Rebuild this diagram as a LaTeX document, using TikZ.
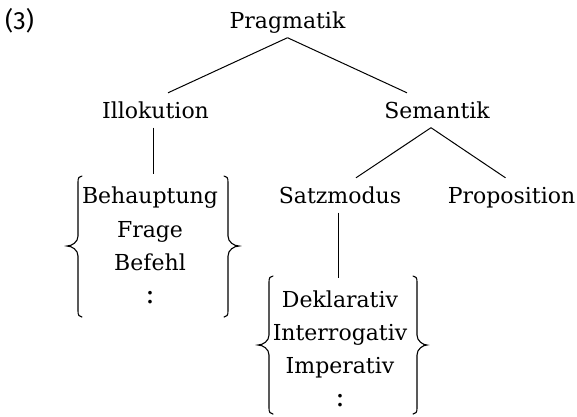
\documentclass[tikz,border=0pt]{standalone}
\usepackage{fontspec}
\setmainfont{DejaVu Serif}
\newfontfamily\numfont{Fira Sans}
\usetikzlibrary{calc}
\begin{document}
\begin{tikzpicture}[x=1bp,y=-1bp,
  txt/.style={font=\fontsize{22bp}{33bp}\selectfont, anchor=base, inner xsep=0pt},
  tn/.style={txt, text height=20.5bp, text depth=5bp, inner ysep=4.5bp},
  li/.style={txt, text height=16bp, text depth=5bp, inner ysep=13bp},
  edge/.style={line width=1bp},
  bracestyle/.style={line width=1.1bp, line cap=round}]
\useasboundingbox (0,0) rectangle (577,416);
\node[anchor=base west, inner sep=0pt, font=\numfont\fontsize{25bp}{28bp}\selectfont] (num) at (5,29) {(3)};
% tree nodes
\node[tn] (prag) at (287.5,28) {Pragmatik};
\node[tn] (illo) at (155.5,118) {Illokution};
\node[tn] (sem) at (437,118) {Semantik};
\node[tn] (satz) at (340,203) {Satzmodus};
\node[tn] (prop) at (511.5,203) {Proposition};
% list 1
\node[li] (b1) at (150,203) {Behauptung};
\node[li] (b2) at (150,237) {Frage};
\node[li] (b3) at (150,270) {Befehl};
\node[li, font=\fontsize{28bp}{33bp}\selectfont] (b4) at (150,303) {:};
% list 2
\node[li] (d1) at (340,307) {Deklarativ};
\node[li] (d2) at (340,340) {Interrogativ};
\node[li] (d3) at (340,373) {Imperativ};
\node[li, font=\fontsize{28bp}{33bp}\selectfont] (d4) at (340,406) {:};
% connectors
\draw[edge] (prag.south) -- ([xshift=12.5bp]illo.north);
\draw[edge] (prag.south) -- ([xshift=-30bp]sem.north);
\draw[edge] ([xshift=-6bp]sem.south) -- ([xshift=16bp]satz.north);
\draw[edge] ([xshift=-6bp]sem.south) -- ([xshift=-6bp]prop.north);
\draw[edge] ([xshift=-2.5bp]illo.south) -- ([xshift=-2.5bp]illo.south |- b1.north);
\draw[edge] ([xshift=-2bp]satz.south) -- ([xshift=-2bp]satz.south |- d1.north);
% braces group 1
\draw[bracestyle] (82,176) .. controls (79,176) and (78,178) .. (78,182) -- (78,236)
  .. controls (78,242) and (72,246) .. (67,246)
  .. controls (72,246) and (78,250) .. (78,256) -- (78,311)
  .. controls (78,315) and (79,317) .. (82,317);
\draw[bracestyle] (224,176) .. controls (227,176) and (228,178) .. (228,182) -- (228,236)
  .. controls (228,242) and (234,246) .. (239,246)
  .. controls (234,246) and (228,250) .. (228,256) -- (228,311)
  .. controls (228,315) and (227,317) .. (224,317);
% braces group 2
\draw[bracestyle] (273,276) .. controls (270,276) and (269,278) .. (269,282) -- (269,335)
  .. controls (269,341) and (263,345) .. (258,345)
  .. controls (263,345) and (269,349) .. (269,355) -- (269,408)
  .. controls (269,412) and (270,414) .. (273,414);
\draw[bracestyle] (413,276) .. controls (416,276) and (417,278) .. (417,282) -- (417,335)
  .. controls (417,341) and (423,345) .. (427,345)
  .. controls (423,345) and (417,349) .. (417,355) -- (417,408)
  .. controls (417,412) and (416,414) .. (413,414);
\end{tikzpicture}
\end{document}
